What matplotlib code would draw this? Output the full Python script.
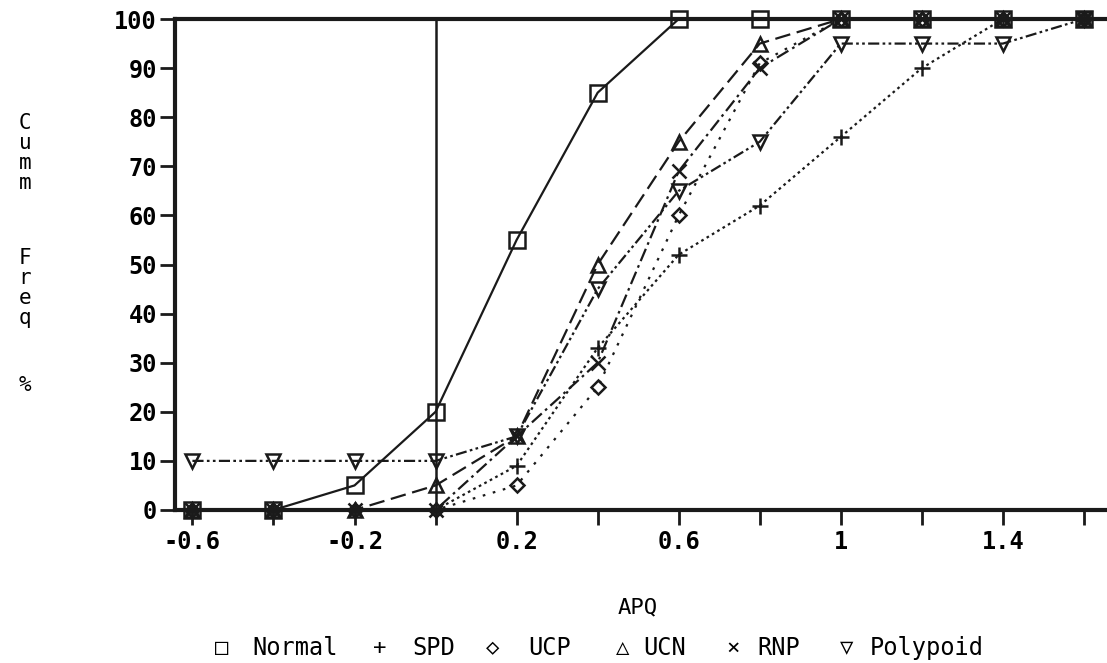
import numpy as np
import matplotlib
matplotlib.use('Agg')
from matplotlib import pyplot as plt

# APQ values on the x axis
apq = [-0.6, -0.4, -0.2, 0.0, 0.2, 0.4, 0.6, 0.8, 1.0, 1.2, 1.4, 1.6]

# Cumulative frequency (%) for each group
normal   = [0, 0, 5, 20, 55, 85, 100, 100, 100, 100, 100, 100]
spd      = [0, 0, 0, 0, 9, 33, 52, 62, 76, 90, 100, 100]
ucp      = [0, 0, 0, 0, 5, 25, 60, 91, 100, 100, 100, 100]
ucn      = [0, 0, 0, 5, 15, 50, 75, 95, 100, 100, 100, 100]
rnp      = [0, 0, 0, 0, 15, 30, 69, 90, 100, 100, 100, 100]
polypoid = [10, 10, 10, 10, 15, 45, 65, 75, 95, 95, 95, 100]

names = ['Normal', 'SPD', 'UCP', 'UCN', 'RNP', 'Polypoid']
legend_symbols = ['\u25a1', '+', '\u25c7', '\u25b3', '\u00d7', '\u25bd']
xtick_labels = ['-0.6', '-0.2', '0.2', '0.6', '1', '1.4']
xtick_pos = [-0.6, -0.2, 0.2, 0.6, 1.0, 1.4]

mono = 'DejaVu Sans Mono'
W, H = 1107, 663

fig = plt.figure(figsize=(W / 100, H / 100), dpi=100)
ax = fig.add_axes([0.1581, 0.2308, 0.8419, 0.7405])

# line style and marker for every series
styles = [
    dict(ls='-', marker='s', ms=12),
    dict(ls=(0, (1.2, 1.6)), marker='+', ms=12),
    dict(ls=(0, (1.2, 3.5)), marker='D', ms=7),
    dict(ls=(0, (7, 3)), marker='^', ms=10),
    dict(ls=(0, (6, 2, 1.2, 2)), marker='x', ms=10),
    dict(ls=(0, (5, 1.5, 1.2, 1.5, 1.2, 1.5)), marker='v', ms=10),
]
series = [normal, spd, ucp, ucn, rnp, polypoid]

for ys, st in zip(series, styles):
    ax.plot(apq, ys, color='#1a1a1a', lw=1.6, ls=st['ls'], marker=st['marker'],
            ms=st['ms'], mfc='none', mec='#1a1a1a', mew=1.8, clip_on=False)

ax.axvline(0, color='#1a1a1a', lw=1.8)

ax.set_xlim(-0.643, 1.657)
ax.set_ylim(0, 100)
ax.set_xticks(np.arange(-0.6, 1.61, 0.2))
ax.set_xticklabels([])
ax.set_yticks(np.arange(0, 101, 10))
ax.set_yticklabels([str(v) for v in range(0, 101, 10)], fontsize=17,
                   family=mono, fontweight='bold')
for xp, lab in zip(xtick_pos, xtick_labels):
    ax.text(xp, -6.6, lab, ha='center', va='center', fontsize=17, family=mono,
            fontweight='bold')

ax.tick_params(axis='both', direction='out', length=11, width=2, color='#1a1a1a')
ax.tick_params(axis='y', pad=2)
for side in ['left', 'bottom', 'top']:
    ax.spines[side].set_linewidth(3)
    ax.spines[side].set_color('#1a1a1a')
ax.spines['right'].set_visible(False)

# stacked y label, three groups
ylab_groups = [('C\nu\nm\nm', 153), ('F\nr\ne\nq', 288), ('%', 385)]
for txt, ypx in ylab_groups:
    fig.text(25 / W, 1 - ypx / H, txt, ha='center', va='center', fontsize=15,
             family=mono, linespacing=1.0)

fig.text(638 / W, 1 - 607 / H, 'APQ', ha='center', va='center', fontsize=16, family=mono)

# legend row under the x label
sym_x = [222, 380, 493, 623, 733, 847]
lab_x = [252, 412, 528, 643, 757, 870]
for s, n, sx, lx in zip(legend_symbols, names, sym_x, lab_x):
    fig.text(sx / W, 1 - 648 / H, s, ha='center', va='center', fontsize=16, family=mono)
    fig.text(lx / W, 1 - 648 / H, n, ha='left', va='center', fontsize=17, family=mono)

fig.savefig('out.png', dpi=100, facecolor='white')
